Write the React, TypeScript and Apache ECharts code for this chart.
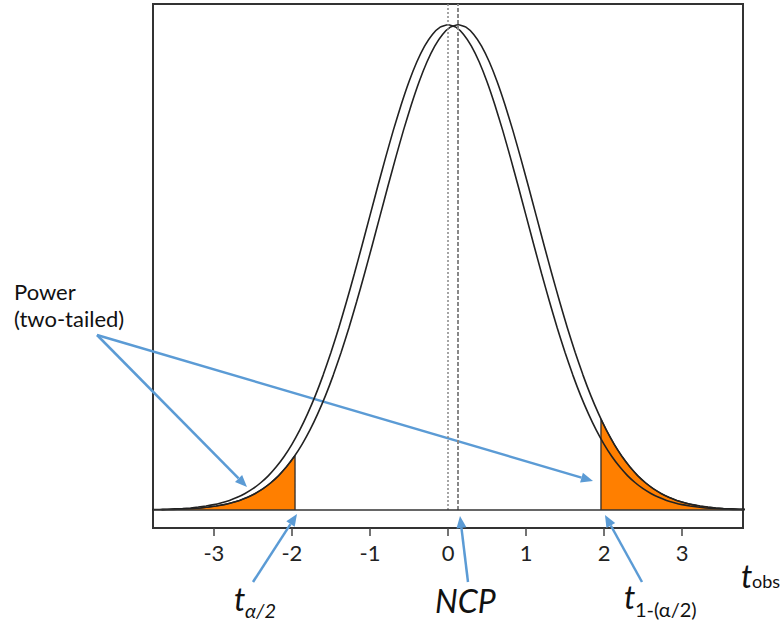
import React, { useEffect, useRef } from "react";
import * as echarts from "echarts";

// x grid (t values) and the null density
const T_GRID = [
  -3.8, -3.7, -3.6, -3.5, -3.4, -3.3, -3.2, -3.1, -3.0, -2.9, -2.8, -2.7, -2.6, -2.5, -2.4, -2.3, -2.2, -2.1, -2.0,
  -1.9, -1.8, -1.7, -1.6, -1.5, -1.4, -1.3, -1.2, -1.1, -1.0, -0.9, -0.8, -0.7, -0.6, -0.5, -0.4, -0.3, -0.2, -0.1,
  0.0, 0.1, 0.2, 0.3, 0.4, 0.5, 0.6, 0.7, 0.8, 0.9, 1.0, 1.1, 1.2, 1.3, 1.4, 1.5, 1.6, 1.7, 1.8, 1.9, 2.0, 2.1, 2.2,
  2.3, 2.4, 2.5, 2.6, 2.7, 2.8, 2.9, 3.0, 3.1, 3.2, 3.3, 3.4, 3.5, 3.6, 3.7, 3.8,
];
const DENSITY = [
  0.0003, 0.0004, 0.0006, 0.0009, 0.0012, 0.0017, 0.0024, 0.0033, 0.0044, 0.006, 0.0079, 0.0104, 0.0136, 0.0175,
  0.0224, 0.0283, 0.0355, 0.044, 0.054, 0.0656, 0.079, 0.094, 0.1109, 0.1295, 0.1497, 0.1714, 0.1942, 0.2179, 0.242,
  0.2661, 0.2897, 0.3123, 0.3332, 0.3521, 0.3683, 0.3814, 0.391, 0.397, 0.3989, 0.397, 0.391, 0.3814, 0.3683, 0.3521,
  0.3332, 0.3123, 0.2897, 0.2661, 0.242, 0.2179, 0.1942, 0.1714, 0.1497, 0.1295, 0.1109, 0.094, 0.079, 0.0656, 0.054,
  0.044, 0.0355, 0.0283, 0.0224, 0.0175, 0.0136, 0.0104, 0.0079, 0.006, 0.0044, 0.0033, 0.0024, 0.0017, 0.0012,
  0.0009, 0.0006, 0.0004, 0.0003,
];
const NCP = 0.13;
const T_CRIT = [-1.96, 1.96];
const ALT_AT_CRIT = [0.0449, 0.0748];
const TICKS = [-3, -2, -1, 0, 1, 2, 3];
const X_RANGE = [-3.78, 3.78];
const Y_RANGE = [-0.0148, 0.416];

const FONT = "Lato, 'Open Sans', sans-serif";
const ARROW_COLOR = "#5B9BD5";

function arrow(x1: number, y1: number, x2: number, y2: number) {
  const a = Math.atan2(y2 - y1, x2 - x1);
  const L = 12, W = 5;
  const bx = x2 - L * Math.cos(a), by = y2 - L * Math.sin(a);
  return {
    type: "group",
    children: [
      { type: "line", shape: { x1, y1, x2: bx, y2: by }, style: { stroke: ARROW_COLOR, lineWidth: 2.5 } },
      {
        type: "polygon",
        shape: {
          points: [
            [x2, y2],
            [bx + W * Math.sin(a), by - W * Math.cos(a)],
            [bx - W * Math.sin(a), by + W * Math.cos(a)],
          ],
        },
        style: { fill: ARROW_COLOR },
      },
    ],
  };
}

function txt(x: number, y: number, text: string, size: number, italic = false) {
  return {
    type: "text",
    x,
    y,
    style: {
      text,
      fill: "#111",
      font: `${italic ? "italic " : ""}${size}px ${FONT}`,
      align: "left",
      verticalAlign: "middle",
    },
  };
}

export default function App() {
  const ref = useRef<HTMLDivElement>(null);
  useEffect(() => {
    if (!ref.current) return;
    const chart = echarts.init(ref.current, null, { renderer: "svg" });
    const nullCurve = T_GRID.map((x, i) => [x, DENSITY[i]]);
    const altCurve = T_GRID.map((x, i) => [x + NCP, DENSITY[i]]);
    const leftTail = [
      ...altCurve.filter((p) => p[0] < T_CRIT[0]),
      [T_CRIT[0], ALT_AT_CRIT[0]],
      [T_CRIT[0], 0],
    ];
    const rightTail = [
      [T_CRIT[1], 0],
      [T_CRIT[1], ALT_AT_CRIT[1]],
      ...altCurve.filter((p) => p[0] > T_CRIT[1]),
    ];
    const tailStyle = {
      type: "line",
      showSymbol: false,
      symbol: "none",
      smooth: false,
      lineStyle: { color: "#222", width: 1.2 },
      areaStyle: { color: "#FF7F00", opacity: 1 },
      z: 1,
    };
    chart.setOption({
      animation: false,
      grid: {
        left: 153,
        right: 39,
        top: 4,
        bottom: 97,
        show: true,
        borderColor: "#333",
        borderWidth: 2,
      },
      xAxis: {
        type: "value",
        min: X_RANGE[0],
        max: X_RANGE[1],
        axisLine: { show: false, onZero: false },
        splitLine: { show: false },
        axisTick: {
          show: true,
          customValues: TICKS,
          length: 8,
          lineStyle: { color: "#444", width: 1.5 },
        },
        axisLabel: {
          customValues: TICKS,
          fontSize: 22,
          fontFamily: FONT,
          color: "#222",
          margin: 13,
        },
      },
      yAxis: {
        type: "value",
        min: Y_RANGE[0],
        max: Y_RANGE[1],
        show: false,
        splitLine: { show: false },
      },
      series: [
        { ...tailStyle, name: "left tail", data: leftTail },
        { ...tailStyle, name: "right tail", data: rightTail },
        {
          type: "line",
          name: "null",
          data: nullCurve,
          showSymbol: false,
          symbol: "none",
          smooth: 0.2,
          lineStyle: { color: "#222", width: 1.6 },
          z: 3,
          markLine: {
            silent: true,
            symbol: ["none", "none"],
            label: { show: false },
            data: [
              [
                { coord: [0, 0], lineStyle: { color: "#888", type: [2, 2], width: 1.5 } },
                { coord: [0, Y_RANGE[1]] },
              ],
              [
                { coord: [NCP, 0], lineStyle: { color: "#888", type: [4, 2], width: 2 } },
                { coord: [NCP, Y_RANGE[1]] },
              ],
              { yAxis: 0, lineStyle: { color: "#333", type: "solid", width: 1.5 } },
            ],
          },
        },
        {
          type: "line",
          name: "alternative",
          data: altCurve,
          showSymbol: false,
          symbol: "none",
          smooth: 0.2,
          lineStyle: { color: "#222", width: 1.6 },
          z: 3,
        },
      ],
      graphic: [
        arrow(97, 335, 247, 487),
        arrow(97, 335, 593, 481),
        arrow(253, 582, 297, 514),
        arrow(468, 582, 460, 516),
        arrow(642, 582, 605, 515),
        txt(14, 291, "Power", 22),
        txt(14, 318, "(two-tailed)", 22),
        txt(741, 575, "t", 32, true),
        txt(752, 581, "obs", 18),
        txt(234, 598, "t", 32, true),
        txt(245, 610, "α/2", 20, true),
        txt(435, 600, "NCP", 32, true),
        txt(624, 596, "t", 32, true),
        txt(635, 609, "1-(α/2)", 20),
      ],
    });
    return () => chart.dispose();
  }, []);
  return (
    <div
      ref={ref}
      style={{ position: "fixed", left: 0, top: 0, width: 782, height: 625, background: "#fff" }}
    />
  );
}
